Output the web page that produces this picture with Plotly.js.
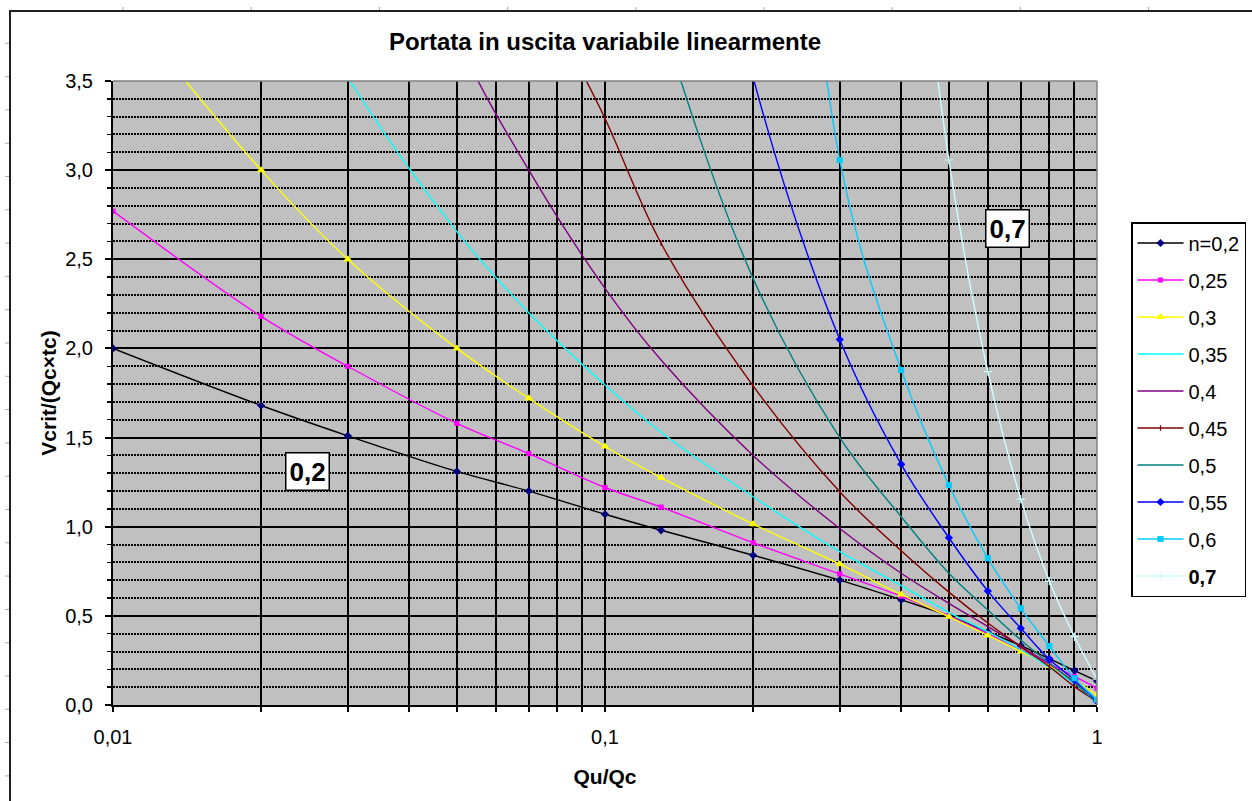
<!DOCTYPE html>
<html>
<head>
<meta charset="utf-8">
<script src="https://cdn.plot.ly/plotly-3.0.1.min.js"></script>
<style>
  html, body { margin: 0; padding: 0; background: #ffffff; }
  #chart { width: 1252px; height: 801px; }
</style>
</head>
<body>
<div id="chart"></div>
<script>
// Qu/Qc sample points (shared by every curve)
const qRatio = [0.01, 0.02, 0.03, 0.05, 0.07, 0.1, 0.13, 0.2, 0.3, 0.4, 0.5, 0.6, 0.7, 0.8, 0.9, 1];

// Vcrit/(Qc x tc) for each exponent n
const vN020 = [2.00, 1.68, 1.51, 1.31, 1.20, 1.07, 0.98, 0.84, 0.70, 0.59, 0.50, 0.41, 0.333, 0.26, 0.193, 0.135];
const vN025 = [2.77, 2.18, 1.90, 1.58, 1.41, 1.22, 1.11, 0.91, 0.735, 0.61, 0.50, 0.40, 0.31, 0.23, 0.16, 0.094];
const vN030 = [4.00, 3.00, 2.50, 2.00, 1.72, 1.45, 1.275, 1.015, 0.79, 0.62, 0.495, 0.39, 0.30, 0.22, 0.14, 0.056];
const vN035 = [null, 4.40, 3.52, 2.655, 2.20, 1.795, 1.53, 1.168, 0.86, 0.67, 0.52, 0.41, 0.31, 0.21, 0.12, 0.03];
const vN040 = [null, null, 5.50, 3.75, 3.00, 2.337, 1.935, 1.40, 0.99, 0.739, 0.57, 0.44, 0.33, 0.23, 0.13, 0.03];
const vN045 = [null, null, null, 5.50, 4.17, 3.29, 2.59, 1.79, 1.196, 0.865, 0.633, 0.46, 0.327, 0.215, 0.103, 0.02];
const vN050 = [null, null, null, null, null, 5.00, 3.85, 2.393, 1.50, 1.056, 0.739, 0.533, 0.365, 0.234, 0.122, 0.01];
const vN055 = [null, null, null, null, null, null, 6.00, 3.52, 2.05, 1.35, 0.938, 0.639, 0.43, 0.256, 0.14, 0.02];
const vN060 = [null, null, null, null, null, null, null, 8.00, 3.057, 1.879, 1.234, 0.823, 0.542, 0.331, 0.15, 0.03];
const vN070 = [null, null, null, null, null, null, null, null, null, 5.30, 3.057, 1.87, 1.155, 0.695, 0.383, 0.145];

const seriesValues = [vN020, vN025, vN030, vN035, vN040, vN045, vN050, vN055, vN060, vN070];
const seriesNames = ['n=0,2', '0,25', '0,3', '0,35', '0,4', '0,45', '0,5', '0,55', '0,6', '<b>0,7</b>'];

// Axis tick labels
const xTickVals = [0.01, 0.02, 0.03, 0.04, 0.05, 0.06, 0.07, 0.08, 0.09,
                   0.1, 0.2, 0.3, 0.4, 0.5, 0.6, 0.7, 0.8, 0.9, 1];
const xTickText = ['0,01', '', '', '', '', '', '', '', '',
                   '0,1', '', '', '', '', '', '', '', '', '1'];

// Curve labels placed in the plot
const curveLabels = ['0,2', '0,7'];
const curveLabelQ = [0.0248, 0.657];
const curveLabelV = [1.312, 2.67];

// Styling per series
const lineColors = ['#000000', '#FF00FF', '#FFFF00', '#00FFFF', '#800080',
                    '#800000', '#008080', '#0000FF', '#00CCFF', '#CCFFFF'];
const markerColors = ['#000080', '#FF00FF', '#FFFF00', '#00FFFF', '#800080',
                      '#800000', '#008080', '#0000FF', '#00CCFF', '#CCFFFF'];
const markerSymbols = ['diamond', 'square', 'triangle-up', null, null,
                       'line-ns-open', null, 'diamond', 'square', 'cross-thin-open'];
const markerSizes = [5, 4, 6, 0, 0, 4, 0, 5, 5, 6];

const traces = seriesValues.map((vals, i) => {
  const hasMarker = markerSymbols[i] !== null;
  const tr = {
    type: 'scatter',
    x: qRatio,
    y: vals,
    name: seriesNames[i],
    legendgroup: 'g' + i,
    mode: hasMarker ? 'lines+markers' : 'lines',
    line: { color: lineColors[i], width: 1.4, shape: 'spline', smoothing: 1 },
    connectgaps: false,
    hoverinfo: 'x+y+name'
  };
  if (hasMarker) {
    tr.marker = {
      symbol: markerSymbols[i], size: markerSizes[i], color: markerColors[i],
      line: { color: markerColors[i], width: 1.2 }
    };
  }
  return tr;
});

// plot area in pixels
const L = 113, T = 81, W = 984, H = 624;
const px = (x) => (x - L) / W;
const py = (y) => (T + H - y) / H;

const shapes = [];
// right and top edges of the plot area
shapes.push({ type: 'line', xref: 'paper', yref: 'paper', x0: 0, x1: 1, y0: 1, y1: 1,
              line: { color: '#808080', width: 1.5 }, layer: 'above' });
shapes.push({ type: 'line', xref: 'paper', yref: 'paper', x0: 1, x1: 1, y0: 0, y1: 1,
              line: { color: '#808080', width: 1.5 }, layer: 'above' });
// outer chart frame
shapes.push({ type: 'rect', xref: 'paper', yref: 'paper',
              x0: px(10), x1: px(1270), y0: py(11), y1: py(820),
              line: { color: '#202020', width: 2 }, fillcolor: 'rgba(0,0,0,0)', layer: 'below' });
// small sheet marks along the top and left margins
for (let k = 0; k < 10; k++) {
  const xx = 123 + 128.2 * k;
  shapes.push({ type: 'line', xref: 'paper', yref: 'paper', x0: px(xx), x1: px(xx),
                y0: py(7), y1: py(10), line: { color: '#aaaaaa', width: 1 } });
}
for (let k = 0; k < 24; k++) {
  const yy = 43.3 + 33.3 * k;
  shapes.push({ type: 'line', xref: 'paper', yref: 'paper', x0: px(5), x1: px(9),
                y0: py(yy), y1: py(yy), line: { color: '#aaaaaa', width: 1 } });
}

const annotations = curveLabels.map((t, i) => ({
  xref: 'x', yref: 'y',
  x: Math.log10(curveLabelQ[i]), y: curveLabelV[i],
  text: '<b>' + t + '</b>',
  showarrow: false,
  font: { family: 'Liberation Sans, Arial, sans-serif', size: 26, color: '#000' },
  bgcolor: '#ffffff', bordercolor: '#000000', borderwidth: 1.5, borderpad: 3
}));

const layout = {
  width: 1252, height: 801,
  margin: { l: L, r: 1252 - L - W, t: T, b: 801 - T - H, pad: 0, autoexpand: false },
  paper_bgcolor: '#ffffff',
  plot_bgcolor: '#C0C0C0',
  separators: ',.',
  font: { family: 'Liberation Sans, Arial, sans-serif', size: 20, color: '#000' },
  title: {
    text: '<b>Portata in uscita variabile linearmente</b>',
    font: { family: 'Liberation Sans, Arial, sans-serif', size: 24, color: '#000' },
    xref: 'paper', x: 0.5, xanchor: 'center',
    yref: 'container', y: 1 - 42 / 801, yanchor: 'middle'
  },
  xaxis: {
    type: 'log', range: [-2, 0],
    tickmode: 'array', tickvals: xTickVals, ticktext: xTickText,
    showgrid: true, gridcolor: '#000000', gridwidth: 2,
    ticks: 'outside', ticklen: 5, tickwidth: 2, tickcolor: '#000',
    showline: true, linecolor: '#000', linewidth: 2,
    zeroline: false,
    ticklabelstandoff: 8,
    tickfont: { size: 20 },
    title: { text: '<b>Qu/Qc</b>', font: { size: 21 }, standoff: 22 }
  },
  yaxis: {
    range: [0, 3.5], tick0: 0, dtick: 0.5, tickformat: '.1f',
    showgrid: true, gridcolor: '#000000', gridwidth: 2,
    ticks: 'outside', ticklen: 6, tickwidth: 2, tickcolor: '#000',
    showline: true, linecolor: '#000', linewidth: 2,
    zeroline: false,
    ticklabelstandoff: 8,
    tickfont: { size: 20 },
    minor: {
      dtick: 0.1, showgrid: true, gridcolor: '#000000', gridwidth: 2,
      griddash: '1.5px,1.5px', ticks: 'outside', ticklen: 4, tickwidth: 1.5, tickcolor: '#000'
    },
    title: { text: '<b>Vcrit/(Qc×tc)</b>', font: { size: 21 }, standoff: 3 }
  },
  legend: {
    x: px(1131), y: py(222), xanchor: 'left', yanchor: 'top',
    bgcolor: '#ffffff', bordercolor: '#000000', borderwidth: 1.5,
    font: { size: 20 }, traceorder: 'grouped', tracegroupgap: 8,
    itemwidth: 46
  },
  shapes: shapes,
  annotations: annotations,
  showlegend: true
};

Plotly.newPlot('chart', traces, layout, { displayModeBar: false, staticPlot: true });
</script>
</body>
</html>
